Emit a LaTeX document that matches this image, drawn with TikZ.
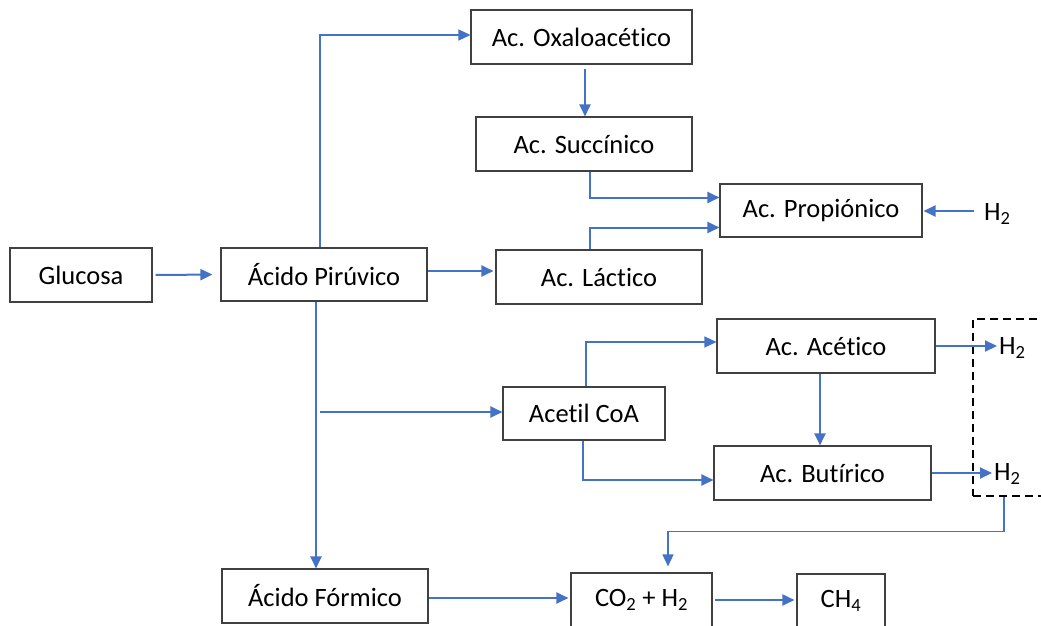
\documentclass[tikz,border=0pt]{standalone}
\usepackage{fontspec}
\setmainfont[Ligatures=NoCommon]{Carlito}
\usetikzlibrary{arrows.meta}
\definecolor{blu}{HTML}{4472C4}
\definecolor{bord}{HTML}{404040}
\tikzset{
  box/.style={draw=bord, line width=1.1pt, rectangle, inner sep=0pt,
    font=\fontsize{26.5pt}{31pt}\selectfont, text=black},
  lbl/.style={inner sep=0pt, font=\fontsize{26.5pt}{31pt}\selectfont, text=black},
  arr/.style={draw=blu, line width=2pt, -{Triangle[length=12pt,width=11pt]}},
  dashbox/.style={draw=black, line width=1.7pt, dash pattern=on 8pt off 5pt, rectangle, inner sep=0pt}
}
\begin{document}
\begin{tikzpicture}[x=1pt,y=-1pt]
\useasboundingbox (0,0) rectangle (1041,626);
\clip (0,0) rectangle (1041,626);
\node[box, minimum width=142pt, minimum height=54pt] (glu) at (81,275) {Glucosa};
\node[box, minimum width=206pt, minimum height=53pt] (pir) at (324,274.5) {Ácido Pirúvico};
\node[box, minimum width=221pt, minimum height=54pt] (oxa) at (581.5,37) {Ac. Oxaloacético};
\node[box, minimum width=216pt, minimum height=54pt] (suc) at (584,144) {Ac. Succínico};
\node[box, minimum width=202pt, minimum height=53pt] (pro) at (821,210.5) {Ac. Propiónico};
\node[box, minimum width=206pt, minimum height=54pt] (lac) at (599,277) {Ac. Láctico};
\node[box, minimum width=218pt, minimum height=54pt] (ace) at (826,346) {Ac. Acético};
\node[box, minimum width=162pt, minimum height=53pt] (coa) at (584,413.5) {Acetil CoA};
\node[box, minimum width=217pt, minimum height=54pt] (but) at (822.5,473) {Ac. Butírico};
\node[box, minimum width=206pt, minimum height=54pt] (for) at (325,596) {Ácido Fórmico};
\node[box, minimum width=141pt, minimum height=54pt] (co2) at (641.5,600) {CO\textsubscript{2} + H\textsubscript{2}};
\node[box, minimum width=88pt, minimum height=54pt] (ch4) at (841,601) {CH\textsubscript{4}};
\node[dashbox, anchor=north west, minimum width=80pt, minimum height=177pt] (hbox) at (972,318) {};
\node[lbl, anchor=west] (h2p) at (984,214) {H\textsubscript{2}};
\node[lbl, anchor=west] (h2a) at (999,348) {H\textsubscript{2}};
\node[lbl, anchor=west] (h2b) at (994,474) {H\textsubscript{2}};
\coordinate (br) at (320,412);

\draw[arr, shorten <=3pt, shorten >=8pt] (glu.east) -- (pir.west);
\draw[arr, shorten >=2pt] ([yshift=3.5pt]pir.east) -- ([yshift=3.5pt]pir.east -| lac.west);
\draw[arr, line width=1.3pt] ([xshift=-4pt]pir.north) |- ([yshift=2pt]oxa.west);
\draw[arr, shorten <=4pt] ([xshift=3.5pt]oxa.south) -- ([xshift=3.5pt]oxa.south |- suc.north);
\draw[arr] ([xshift=6pt]suc.south) |- ([yshift=13pt]pro.west);
\draw[arr] ([xshift=-9pt]lac.north) |- ([yshift=-17pt]pro.west);
\draw[arr, shorten <=10pt, shorten >=1pt] ([yshift=3pt]h2p.west) -- ([yshift=3pt]h2p.west -| pro.east);
\draw[arr] ([xshift=-8pt]pir.south) -- ([xshift=-8pt]pir.south |- for.north);
\draw[arr] (br) -- (br -| coa.west);
\draw[arr, line width=1.4pt] ([xshift=2pt]coa.north) |- ([yshift=4pt]ace.west);
\draw[arr] ([xshift=-1pt]coa.south) |- ([yshift=-7pt]but.west);
\draw[arr] ([xshift=-6pt]ace.south) -- ([xshift=-6pt]ace.south |- but.north);
\draw[arr, shorten >=2pt] (ace.east) -- (ace.east -| h2a.west);
\draw[arr, shorten >=2pt] (but.east) -- (but.east -| h2b.west);
\draw[arr, line width=1.3pt] ([xshift=32pt]hbox.south west) -- ++(0,35) -| ([xshift=26.5pt,yshift=6pt]co2.north);
\draw[arr, shorten >=2pt] ([yshift=-2pt]for.east) -- ([yshift=-2pt]for.east -| co2.west);
\draw[arr, shorten <=2pt, shorten >=2pt] (co2.east) -- (co2.east -| ch4.west);
\end{tikzpicture}
\end{document}
